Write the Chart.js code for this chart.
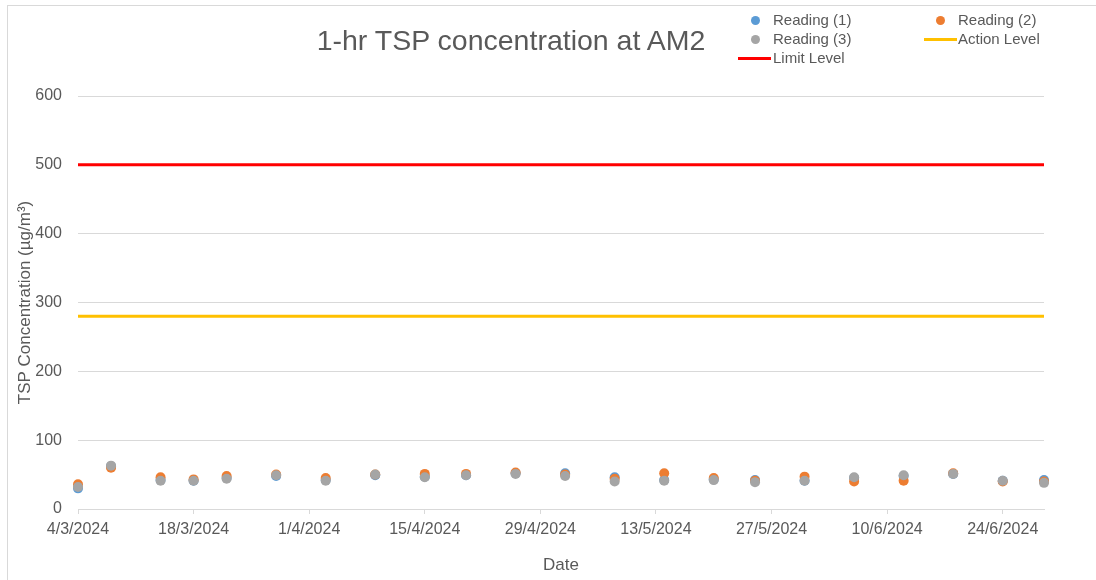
<!DOCTYPE html>
<html>
<head>
  <meta charset="UTF-8">
  <title>1-hr TSP concentration at AM2</title>
  <script src="https://cdn.jsdelivr.net/npm/chart.js"></script>
  <style>
    html, body { margin: 0; padding: 0; background: #fff; overflow: hidden; }
    #wrap { position: relative; width: 1096px; height: 580px; font-family: "Liberation Sans", Arial, sans-serif; color: #595959; }
    #frame { position: absolute; left: 7px; top: 5px; width: 1200px; height: 700px; border-left: 1px solid #d9d9d9; border-top: 1px solid #d9d9d9; }
    #title { position: absolute; left: 311px; width: 400px; top: 22px; text-align: center; font-size: 28.5px; line-height: 36px; white-space: nowrap; }
    .lg { position: absolute; font-size: 15px; line-height: 18px; white-space: nowrap; }
    .dot { position: absolute; width: 9px; height: 9px; border-radius: 50%; }
    .bar { position: absolute; height: 3px; }
    canvas { position: absolute; left: 0; top: 0; }
  </style>
</head>
<body>
<div id="wrap">
  <div id="frame"></div>
  <canvas id="c" width="1096" height="580"></canvas>
  <div id="title">1-hr TSP concentration at AM2</div>
  <div id="legend"></div>
</div>
<script>
  const dates = ['4/3/2024', '8/3/2024', '14/3/2024', '18/3/2024', '22/3/2024', '28/3/2024',
    '3/4/2024', '9/4/2024', '15/4/2024', '20/4/2024', '26/4/2024', '2/5/2024', '8/5/2024',
    '14/5/2024', '20/5/2024', '25/5/2024', '31/5/2024', '6/6/2024', '12/6/2024', '18/6/2024',
    '24/6/2024', '29/6/2024'];
  const reading1 = [30, 62, 42, 41, 45, 48, 42, 49, 47, 49, 52, 52, 46, 42, 43, 42, 41, 45, 48, 51, 41, 42];
  const reading2 = [36, 60, 46, 43, 48, 50, 45, 50, 51, 51, 53, 50, 44, 52, 45, 41, 47, 40, 41, 52, 40, 40];
  const reading3 = [32, 63, 41, 41, 44, 49, 41, 50, 46, 49, 51, 48, 40, 41, 42, 39, 41, 46, 49, 51, 41, 38];
  const actionLevel = 280;
  const limitLevel = 500;
  const xTickLabels = ['4/3/2024', '18/3/2024', '1/4/2024', '15/4/2024', '29/4/2024',
    '13/5/2024', '27/5/2024', '10/6/2024', '24/6/2024'];
  const yTicks = [0, 100, 200, 300, 400, 500, 600];

  // day numbers counted from the first date
  function dayNum(s) {
    const [d, m, y] = s.split('/').map(Number);
    return Date.UTC(y, m - 1, d) / 86400000;
  }
  const day0 = dayNum(dates[0]);
  const xs = dates.map(s => dayNum(s) - day0);
  const xMax = xs[xs.length - 1];
  const tickDays = xTickLabels.map(s => dayNum(s) - day0);
  const pts = vals => vals.map((v, i) => ({ x: xs[i], y: v }));
  const flat = v => [{ x: 0, y: v }, { x: xMax, y: v }];

  const grey = '#595959';
  const font = { family: '"Liberation Sans", Arial, sans-serif', size: 16 };

  new Chart(document.getElementById('c'), {
    type: 'scatter',
    data: {
      datasets: [
        { label: 'Reading (1)', data: pts(reading1), backgroundColor: '#5B9BD5', pointRadius: 5, pointBorderWidth: 0, clip: false, order: 3 },
        { label: 'Reading (2)', data: pts(reading2), backgroundColor: '#ED7D31', pointRadius: 5, pointBorderWidth: 0, clip: false, order: 2 },
        { label: 'Reading (3)', data: pts(reading3), backgroundColor: '#A5A5A5', pointRadius: 5, pointBorderWidth: 0, clip: false, order: 1 },
        { label: 'Action Level', type: 'line', data: flat(actionLevel), borderColor: '#FFC000', borderWidth: 3, pointRadius: 0, order: 4 },
        { label: 'Limit Level', type: 'line', data: flat(limitLevel), borderColor: '#FF0000', borderWidth: 3, pointRadius: 0, order: 5 }
      ]
    },
    options: {
      responsive: false,
      animation: false,
      devicePixelRatio: 1,
      layout: { padding: { left: 11, right: 52, top: 96, bottom: 0 } },
      plugins: { legend: { display: false }, title: { display: false }, tooltip: { enabled: false } },
      scales: {
        x: {
          type: 'linear',
          min: 0,
          max: xMax,
          afterFit: s => { s.height = 71; },
          afterBuildTicks: s => { s.ticks = tickDays.map(v => ({ value: v })); },
          ticks: {
            autoSkip: false, maxRotation: 0, padding: 6, color: grey, font: font,
            callback: v => xTickLabels[tickDays.indexOf(v)]
          },
          grid: { drawOnChartArea: false, drawTicks: true, tickLength: 5, color: '#d9d9d9' },
          border: { color: '#d9d9d9', width: 1 },
          title: { display: true, text: 'Date', color: grey, font: { family: font.family, size: 17 }, padding: { top: 4, bottom: 4 } }
        },
        y: {
          min: 0,
          max: 600,
          afterFit: s => { s.width = 67; },
          afterBuildTicks: s => { s.ticks = yTicks.map(v => ({ value: v })); },
          ticks: { padding: 16, color: grey, font: font },
          grid: { color: '#d9d9d9', drawTicks: false },
          border: { display: false },
          title: { display: true, text: 'TSP Concentration (µg/m³)', color: grey, font: { family: font.family, size: 17 }, padding: { top: 4, bottom: 4 } }
        }
      }
    }
  });

  // legend laid out like the spreadsheet one: two columns
  const legendItems = [
    { text: 'Reading (1)', kind: 'dot', color: '#5B9BD5', mx: 755, tx: 773, y: 20 },
    { text: 'Reading (2)', kind: 'dot', color: '#ED7D31', mx: 940, tx: 958, y: 20 },
    { text: 'Reading (3)', kind: 'dot', color: '#A5A5A5', mx: 755, tx: 773, y: 39 },
    { text: 'Action Level', kind: 'bar', color: '#FFC000', mx: 924, tx: 958, y: 39 },
    { text: 'Limit Level', kind: 'bar', color: '#FF0000', mx: 738, tx: 773, y: 58 }
  ];
  const lg = document.getElementById('legend');
  legendItems.forEach(it => {
    const m = document.createElement('div');
    if (it.kind === 'dot') {
      m.className = 'dot';
      m.style.left = (it.mx - 4.5) + 'px';
      m.style.top = (it.y - 4.5) + 'px';
    } else {
      m.className = 'bar';
      m.style.left = it.mx + 'px';
      m.style.width = '33px';
      m.style.top = (it.y - 1.5) + 'px';
    }
    m.style.background = it.color;
    lg.appendChild(m);
    const t = document.createElement('div');
    t.className = 'lg';
    t.textContent = it.text;
    t.style.left = it.tx + 'px';
    t.style.top = (it.y - 9) + 'px';
    lg.appendChild(t);
  });
</script>
</body>
</html>
